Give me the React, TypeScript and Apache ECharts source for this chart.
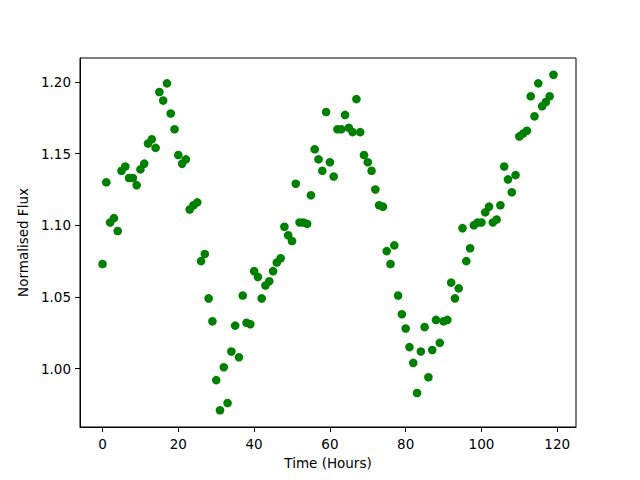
import React, { useEffect, useRef } from "react";
import * as echarts from "echarts";

const hours: number[] = [
  0, 1, 2, 3, 4, 5, 6, 7, 8, 9, 10, 11, 12, 13, 14, 15, 16, 17, 18, 19,
  20, 21, 22, 23, 24, 25, 26, 27, 28, 29, 30, 31, 32, 33, 34, 35, 36, 37, 38, 39,
  40, 41, 42, 43, 44, 45, 46, 47, 48, 49, 50, 51, 52, 53, 54, 55, 56, 57, 58, 59,
  60, 61, 62, 63, 64, 65, 66, 67, 68, 69, 70, 71, 72, 73, 74, 75, 76, 77, 78, 79,
  80, 81, 82, 83, 84, 85, 86, 87, 88, 89, 90, 91, 92, 93, 94, 95, 96, 97, 98, 99,
  100, 101, 102, 103, 104, 105, 106, 107, 108, 109, 110, 111, 112, 113, 114, 115, 116, 117, 118, 119,
];

const flux: number[] = [
  1.073, 1.130, 1.102, 1.105, 1.096, 1.138, 1.141, 1.133, 1.133, 1.128,
  1.139, 1.143, 1.157, 1.160, 1.154, 1.193, 1.187, 1.199, 1.178, 1.167,
  1.149, 1.143, 1.146, 1.111, 1.114, 1.116, 1.075, 1.080, 1.049, 1.033,
  0.992, 0.971, 1.001, 0.976, 1.012, 1.030, 1.008, 1.051, 1.032, 1.031,
  1.068, 1.064, 1.049, 1.058, 1.061, 1.068, 1.074, 1.077, 1.099, 1.093,
  1.089, 1.129, 1.102, 1.102, 1.101, 1.121, 1.153, 1.146, 1.138, 1.179,
  1.144, 1.134, 1.167, 1.167, 1.177, 1.168, 1.165, 1.188, 1.165, 1.149,
  1.144, 1.138, 1.125, 1.114, 1.113, 1.082, 1.073, 1.086, 1.051, 1.038,
  1.028, 1.015, 1.004, 0.983, 1.012, 1.029, 0.994, 1.013, 1.034, 1.018,
  1.033, 1.034, 1.060, 1.049, 1.056, 1.098, 1.075, 1.084, 1.100, 1.102,
  1.102, 1.109, 1.113, 1.102, 1.104, 1.114, 1.141, 1.132, 1.123, 1.135,
  1.162, 1.164, 1.166, 1.190, 1.176, 1.199, 1.183, 1.186, 1.190, 1.205,
];

const xTicks: number[] = [0, 20, 40, 60, 80, 100, 120];
const yTicks: number[] = [1.0, 1.05, 1.1, 1.15, 1.2];

const xLabel = "Time (Hours)";
const yLabel = "Normalised Flux";

export default function App() {
  const ref = useRef<HTMLDivElement>(null);

  useEffect(() => {
    if (!ref.current) return;
    const chart = echarts.init(ref.current, undefined, { renderer: "svg" });

    const xMinD = Math.min(...hours);
    const xMaxD = Math.max(...hours);
    const yMinD = Math.min(...flux);
    const yMaxD = Math.max(...flux);
    const xPad = (xMaxD - xMinD) * 0.05;
    const yPad = (yMaxD - yMinD) * 0.05;

    const font = "DejaVu Sans";
    const data = hours.map((h, i) => [h, flux[i]]);

    chart.setOption({
      animation: false,
      backgroundColor: "#ffffff",
      grid: {
        left: 80,
        right: 64,
        top: 58,
        bottom: 53,
        show: true,
        borderColor: "#000000",
        borderWidth: 1,
        backgroundColor: "transparent",
      },
      xAxis: {
        type: "value",
        min: xMinD - xPad,
        max: xMaxD + xPad,
        name: xLabel,
        nameLocation: "middle",
        nameGap: 29,
        nameTextStyle: { fontFamily: font, fontSize: 13.5, color: "#000" },
        axisLine: { show: true, onZero: false, lineStyle: { color: "#000", width: 1 } },
        axisTick: {
          show: true,
          length: 5,
          inside: false,
          customValues: xTicks,
          lineStyle: { color: "#000", width: 1 },
        },
        axisLabel: {
          show: true,
          customValues: xTicks,
          margin: 10,
          fontFamily: font,
          fontSize: 13.5,
          color: "#000",
          formatter: (v: number) => String(Math.round(v)),
        },
        splitLine: { show: false },
      },
      yAxis: {
        type: "value",
        min: yMinD - yPad,
        max: yMaxD + yPad,
        name: yLabel,
        nameLocation: "middle",
        nameGap: 47,
        nameRotate: 90,
        nameTextStyle: { fontFamily: font, fontSize: 13.5, color: "#000" },
        axisLine: { show: true, onZero: false, lineStyle: { color: "#000", width: 1 } },
        axisTick: {
          show: true,
          length: 5,
          inside: false,
          customValues: yTicks,
          lineStyle: { color: "#000", width: 1 },
        },
        axisLabel: {
          show: true,
          customValues: yTicks,
          margin: 9,
          fontFamily: font,
          fontSize: 13.5,
          color: "#000",
          formatter: (v: number) => v.toFixed(2),
        },
        splitLine: { show: false },
      },
      series: [
        {
          type: "scatter",
          data,
          symbol: "circle",
          symbolSize: 8.6,
          itemStyle: { color: "#008000", opacity: 1 },
        },
      ],
    });

    return () => {
      chart.dispose();
    };
  }, []);

  return (
    <div
      ref={ref}
      style={{ position: "fixed", left: 0, top: 0, width: 640, height: 480, background: "#fff" }}
    />
  );
}
